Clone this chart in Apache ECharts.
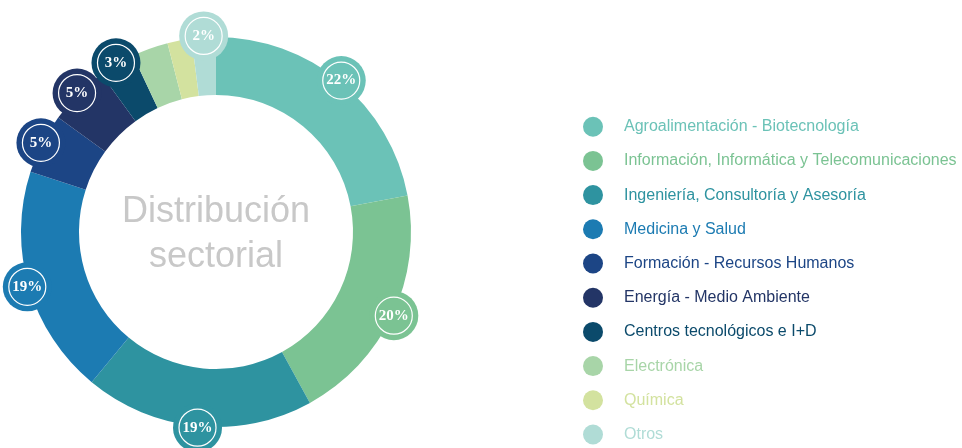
<!DOCTYPE html>
<html>
<head>
<meta charset="utf-8">
<script src="https://cdn.jsdelivr.net/npm/echarts@6/dist/echarts.min.js"></script>
<style>
html,body{margin:0;padding:0;background:#fff;}
#c{width:962px;height:448px;}
</style>
</head>
<body>
<div id="c"></div>
<script>
// ---- data ----
var sectors = [
  'Agroalimentación - Biotecnología',
  'Información, Informática y Telecomunicaciones',
  'Ingeniería, Consultoría y Asesoría',
  'Medicina y Salud',
  'Formación - Recursos Humanos',
  'Energía - Medio Ambiente',
  'Centros tecnológicos e I+D',
  'Electrónica',
  'Química',
  'Otros'
];
var shares = [22, 20, 19, 19, 5, 5, 3, 3, 2, 2];
var colors = ['#6bc2b7', '#7bc393', '#2e93a0', '#1c7bb2', '#1c4585', '#233566', '#0b4a6b', '#a8d5a8', '#d3e29f', '#b0dcd6'];
var bubbleShown = [true, true, true, true, true, true, true, false, false, true];
var centerTitle = ['Distribución', 'sectorial'];

// ---- geometry ----
var CX = 216, CY = 232, R_IN = 137, R_OUT = 195;

var total = shares.reduce(function (a, b) { return a + b; }, 0);
var cum = 0;
var bubbles = [];
shares.forEach(function (v, i) {
  var mid = cum + v / 2;
  cum += v;
  if (bubbleShown[i]) {
    bubbles.push({
      value: [R_OUT + 1.5, mid],
      itemStyle: { color: colors[i], opacity: 1 },
      label: { formatter: '{a|' + v + '%}' }
    });
  }
});

var chart = echarts.init(document.getElementById('c'), null, { renderer: 'canvas' });
chart.setOption({
  backgroundColor: '#fff',
  animation: false,
  color: colors,
  legend: {
    orient: 'vertical',
    left: 583,
    top: 116.7,
    height: 345,
    padding: 0,
    itemWidth: 52,
    itemHeight: 20,
    itemGap: 14.2,
    icon: 'circle',
    selectedMode: false,
    textStyle: { fontFamily: 'Liberation Sans', fontSize: 16 },
    data: sectors.map(function (n, i) {
      return { name: n, textStyle: { color: colors[i] } };
    })
  },
  polar: { center: [CX, CY], radius: [0, R_OUT] },
  angleAxis: { type: 'value', min: 0, max: total, startAngle: 90, clockwise: true, show: false },
  radiusAxis: { type: 'value', min: 0, max: R_OUT, show: false },
  graphic: [{
    type: 'text',
    x: CX,
    y: CY + 3,
    style: {
      text: centerTitle.join('\n'),
      fill: '#c8c8c8',
      font: '36px "Liberation Sans"',
      lineHeight: 45,
      textAlign: 'center',
      textVerticalAlign: 'middle'
    },
    z: 10
  }],
  series: [{
    type: 'pie',
    center: [CX, CY],
    radius: [R_IN, R_OUT],
    startAngle: 90,
    clockwise: true,
    avoidLabelOverlap: false,
    label: { show: false },
    labelLine: { show: false },
    emphasis: { disabled: true },
    itemStyle: { borderWidth: 0 },
    data: sectors.map(function (n, i) {
      return { name: n, value: shares[i], itemStyle: { color: colors[i] } };
    }),
    z: 1
  }, {
    type: 'scatter',
    coordinateSystem: 'polar',
    clip: false,
    symbol: 'circle',
    symbolSize: 49,
    silent: true,
    z: 3,
    itemStyle: { opacity: 1 },
    label: {
      show: true,
      position: 'inside',
      rich: {
        a: {
          width: 37,
          height: 37,
          lineHeight: 37,
          borderRadius: 19,
          borderColor: '#fff',
          borderWidth: 1.2,
          align: 'center',
          verticalAlign: 'middle',
          color: '#fff',
          fontFamily: 'Liberation Serif',
          fontWeight: 'bold',
          fontSize: 15
        }
      }
    },
    data: bubbles
  }]
});
</script>
</body>
</html>
